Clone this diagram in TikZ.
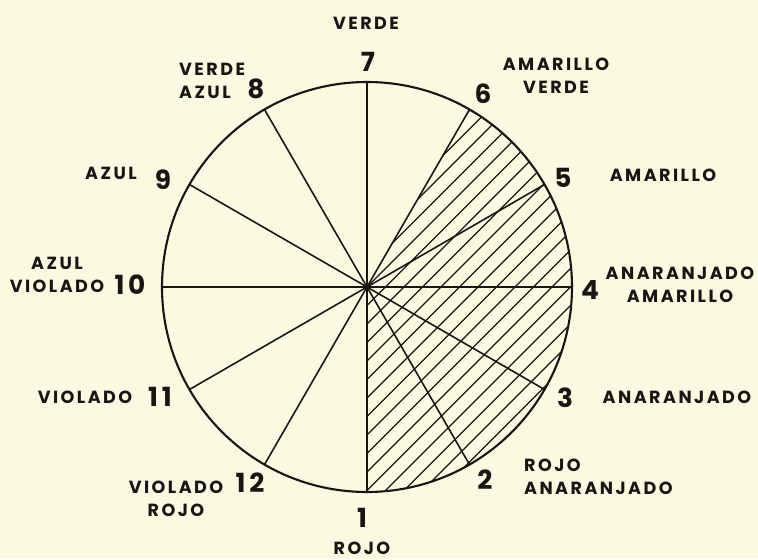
\documentclass[tikz,border=0pt]{standalone}
\usepackage{fontspec}
\usepackage{tikz}
\usetikzlibrary{positioning}
\newfontfamily\handfont[LetterSpace=14]{Poppins}
\definecolor{wheelpaper}{RGB}{252, 249, 227}
\definecolor{wheelink}{RGB}{25, 22, 18}

\begin{document}
\begin{tikzpicture}[x=0.02cm, y=0.02cm,
    num/.style={font=\handfont\bfseries\fontsize{15}{15}\selectfont, text=wheelink, inner sep=1pt},
    hue/.style={font=\handfont\bfseries\fontsize{10}{13}\selectfont, text=wheelink, align=center, inner sep=1pt}]
    % paper
    \fill [wheelpaper] (-367,-272) rectangle (391,287);
    % hatched part, from 1 round to 6
    \begin{scope}
        \clip (0,0) -- (270:205) arc [start angle=270, end angle=420, radius=205] -- cycle;
        \foreach \k in {-6,...,17}
            \draw [wheelink, line width=0.7pt] (\k*18.5-260,-260) -- (\k*18.5+260,260);
    \end{scope}
    % the wheel
    \draw [wheelink, line width=1.2pt] (0,0) circle [radius=205];
    \foreach \a in {0,30,...,330}
        \draw [wheelink, line width=0.9pt] (0,0) -- (\a:205);

    % numbers
    \node [num] (n1) at (-5,-231) {1};
    \node [num] (n2) at (118,-193) {2};
    \node [num] (n3) at (198,-111) {3};
    \node [num] (n4) at (223,-3) {4};
    \node [num] (n5) at (196,109) {5};
    \node [num] (n6) at (116,193) {6};
    \node [num] (n7) at (1,225) {7};
    \node [num] (n8) at (-111,198) {8};
    \node [num] (n9) at (-204,107) {9};
    \node [num] (n10) at (-237,2) {10};
    \node [num] (n11) at (-207,-110) {11};
    \node [num] (n12) at (-117,-196) {12};

    % colour names
    \node [hue, below=0.2cm of n1] (h1) {ROJO};
    \node [hue, anchor=west, align=left] (h2) at (155,-190) {ROJO\\ANARANJADO};
    \node [hue] (h3) at (310,-110) {ANARANJADO};
    \node [hue] (h4) at (313,2) {ANARANJADO\\AMARILLO};
    \node [hue] (h5) at (296,112) {AMARILLO};
    \node [hue] (h6) at (189,211) {AMARILLO\\VERDE};
    \node [hue] (h7) at (-1,264) {VERDE};
    \node [hue, anchor=west, align=left] (h8) at (-190,206) {VERDE\\AZUL};
    \node [hue] (h9) at (-256,114) {AZUL};
    \node [hue] (h10) at (-310,12) {AZUL\\VIOLADO};
    \node [hue] (h11) at (-282,-110) {VIOLADO};
    \node [hue] (h12) at (-191,-212) {VIOLADO\\ROJO};
\end{tikzpicture}
\end{document}
